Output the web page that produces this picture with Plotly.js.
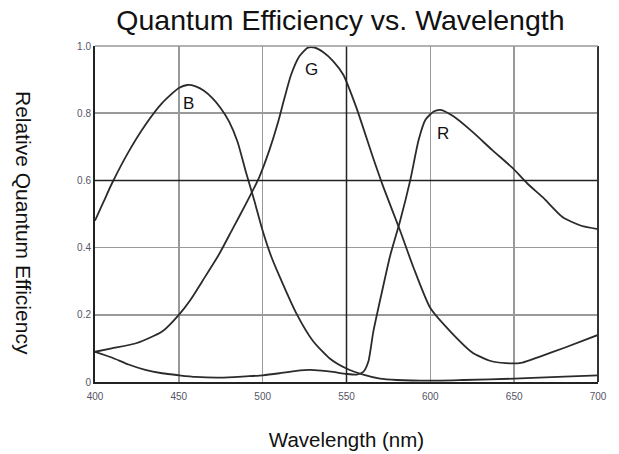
<!DOCTYPE html>
<html>
<head>
<meta charset="utf-8">
<script src="https://cdn.plot.ly/plotly-3.0.1.min.js"></script>
<style>html,body{margin:0;padding:0;background:#fff;}#chart{width:619px;height:454px;}</style>
</head>
<body>
<div id="chart"></div>
<script>
// Blue channel
var blueWl  = [400,405,410,420,430,440,450,455,460,465,470,475,480,485,490,495,500,505,510,520,530,540,550,560,570,580,600,620,650,680,700];
var blueQE  = [0.48,0.535,0.59,0.685,0.765,0.83,0.875,0.884,0.88,0.867,0.845,0.815,0.775,0.715,0.625,0.54,0.45,0.375,0.315,0.205,0.122,0.07,0.04,0.022,0.01,0.006,0.004,0.006,0.01,0.016,0.02];
// Green channel
var greenWl = [400,410,425,440,450,457,464,474,482,490,498,504,509,513,517,522,527,531,536,542,548,556,566,572,582,590,600,612,625,635,645,655,665,680,700];
var greenQE = [0.09,0.10,0.116,0.15,0.2,0.245,0.30,0.38,0.455,0.53,0.61,0.69,0.77,0.845,0.915,0.97,0.995,0.995,0.982,0.955,0.915,0.815,0.665,0.58,0.45,0.34,0.22,0.15,0.088,0.064,0.056,0.058,0.075,0.102,0.14];
// Red channel
var redWl   = [400,410,420,430,440,450,460,475,490,500,510,520,528,535,542,550,556,560,563,566,571,576,582,588,593,597,602,606,614,625,637,649,658,667,679,690,700];
var redQE   = [0.09,0.073,0.052,0.036,0.026,0.02,0.015,0.013,0.017,0.02,0.026,0.033,0.036,0.034,0.03,0.024,0.022,0.03,0.06,0.15,0.265,0.375,0.48,0.60,0.72,0.78,0.805,0.81,0.79,0.745,0.69,0.637,0.59,0.55,0.49,0.465,0.455];

var seriesNames = ["B","G","R"];
var labelX = [455.5, 529, 607.5];
var labelY = [0.83, 0.93, 0.74];

var xTicks = [400,450,500,550,600,650,700];
var xTickText = ["400","450","500","550","600","650","700"];
var yTicks = [0,0.2,0.4,0.6,0.8,1.0];
var yTickText = ["0","0.2","0.4","0.6","0.8","1.0"];

var FONT = "Liberation Sans, Arial, sans-serif";
var lineStyle = {color:"#2b2b2b", width:1.8, shape:"spline", smoothing:0.6};
var traces = [
  {x:blueWl, y:blueQE, name:"B", mode:"lines", line:lineStyle, hoverinfo:"skip"},
  {x:greenWl, y:greenQE, name:"G", mode:"lines", line:lineStyle, hoverinfo:"skip"},
  {x:redWl, y:redQE, name:"R", mode:"lines", line:lineStyle, hoverinfo:"skip"}
];

var annotations = seriesNames.map(function(n,i){
  return {x:labelX[i], y:labelY[i], xref:"x", yref:"y", text:n, showarrow:false,
          font:{family:FONT, size:17, color:"#111"}};
});
annotations.push({xref:"paper", yref:"paper", x:-0.141, xanchor:"center", y:0.473, yanchor:"middle",
  text:"Relative Quantum Efficiency", textangle:90, showarrow:false,
  font:{family:FONT, size:21, color:"#111"}});

var shapes = [
  {type:"line", xref:"x", yref:"paper", x0:550, x1:550, y0:0, y1:1, line:{color:"#222", width:1.5}},
  {type:"line", xref:"paper", yref:"y", x0:0, x1:1, y0:0.6, y1:0.6, line:{color:"#222", width:1.5}},
  {type:"line", xref:"paper", yref:"paper", x0:1, x1:1, y0:0, y1:1, line:{color:"#333", width:2}},
  {type:"line", xref:"paper", yref:"paper", x0:0, x1:1, y0:1, y1:1, line:{color:"#999", width:1.5}}
];

var layout = {
  width:619, height:454,
  margin:{l:95, r:21, t:46, b:72},
  paper_bgcolor:"#fff", plot_bgcolor:"#fff",
  showlegend:false,
  font:{family:FONT, color:"#111"},
  title:{text:"Quantum Efficiency vs. Wavelength", x:0.55, xanchor:"center", y:0.955, yanchor:"middle",
         font:{family:FONT, size:28.5, color:"#111"}},
  xaxis:{range:[400,700], tickvals:xTicks, ticktext:xTickText, showgrid:true, gridcolor:"#999", gridwidth:1.5,
         showline:true, linecolor:"#222", linewidth:2, zeroline:false, ticks:"", ticklen:0,
         ticklabelstandoff:4,
         tickfont:{size:10, color:"#556"}, fixedrange:true,
         title:{text:"Wavelength (nm)", standoff:32, font:{size:20.5, color:"#111"}}},
  yaxis:{range:[0,1], tickvals:yTicks, ticktext:yTickText, showgrid:true, gridcolor:"#999", gridwidth:1.5,
         showline:true, linecolor:"#222", linewidth:2, zeroline:false, ticks:"", ticklen:0,
         tickfont:{size:10, color:"#556"}, fixedrange:true},
  annotations:annotations,
  shapes:shapes
};

Plotly.newPlot("chart", traces, layout, {displayModeBar:false, staticPlot:true});
</script>
</body>
</html>
